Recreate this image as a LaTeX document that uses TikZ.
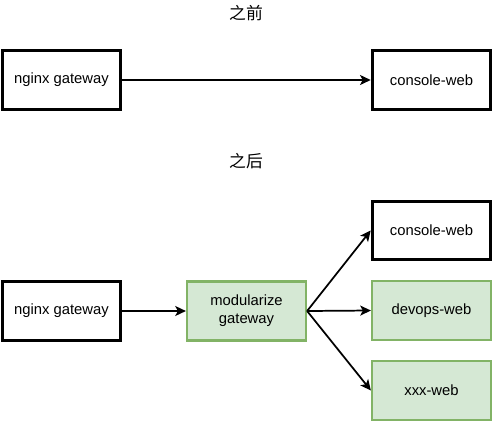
\documentclass[tikz,border=0pt]{standalone}
\usepackage{fontspec}
\setmainfont{Liberation Sans}
\newfontfamily\cjk{Noto Sans CJK SC}
\usetikzlibrary{arrows.meta}
\definecolor{gfill}{HTML}{D5E8D4}
\definecolor{gdraw}{HTML}{82B366}
\tikzset{
  box/.style={draw=black, line width=2.2pt, fill=white, align=center, inner sep=2pt, minimum width=89pt, minimum height=44pt, font=\fontsize{11.1pt}{13.5pt}\selectfont},
  greenbox/.style={box, draw=gdraw, fill=gfill, line width=1.9pt},
  arrow/.style={-{Stealth[length=8pt,width=7.5pt,inset=2pt]}, line width=1.3pt},
  heading/.style={font=\cjk\fontsize{12.6pt}{14pt}\selectfont}
}
\begin{document}
\begin{tikzpicture}[x=0.75pt, y=-0.75pt]
\useasboundingbox (0,0) rectangle (493,422);
% ---- before ----
\node[heading] (before) at (246,13) {之前};
\node[box] (nginxA) at (61.5,80) {nginx gateway};
\node[box] (consoleA) at (431.5,80) {console-web};
\draw[arrow] (nginxA) -- (consoleA);
% ---- after ----
\node[heading] (after) at (246,161) {之后};
\node[box] (nginxB) at (61.5,311) {nginx gateway};
\node[greenbox] (modgw) at (246.5,311) {modularize\\gateway};
\node[box] (consoleB) at (431.5,230.5) {console-web};
\node[greenbox] (devops) at (431.5,310.5) {devops-web};
\node[greenbox] (xxx) at (431.5,390.5) {xxx-web};
\draw[arrow] (nginxB) -- (modgw);
\draw[arrow] (modgw.east) -- (consoleB.west);
\draw[arrow] (modgw.east) -- (devops.west);
\draw[arrow] (modgw.east) -- (xxx.west);
\end{tikzpicture}
\end{document}
